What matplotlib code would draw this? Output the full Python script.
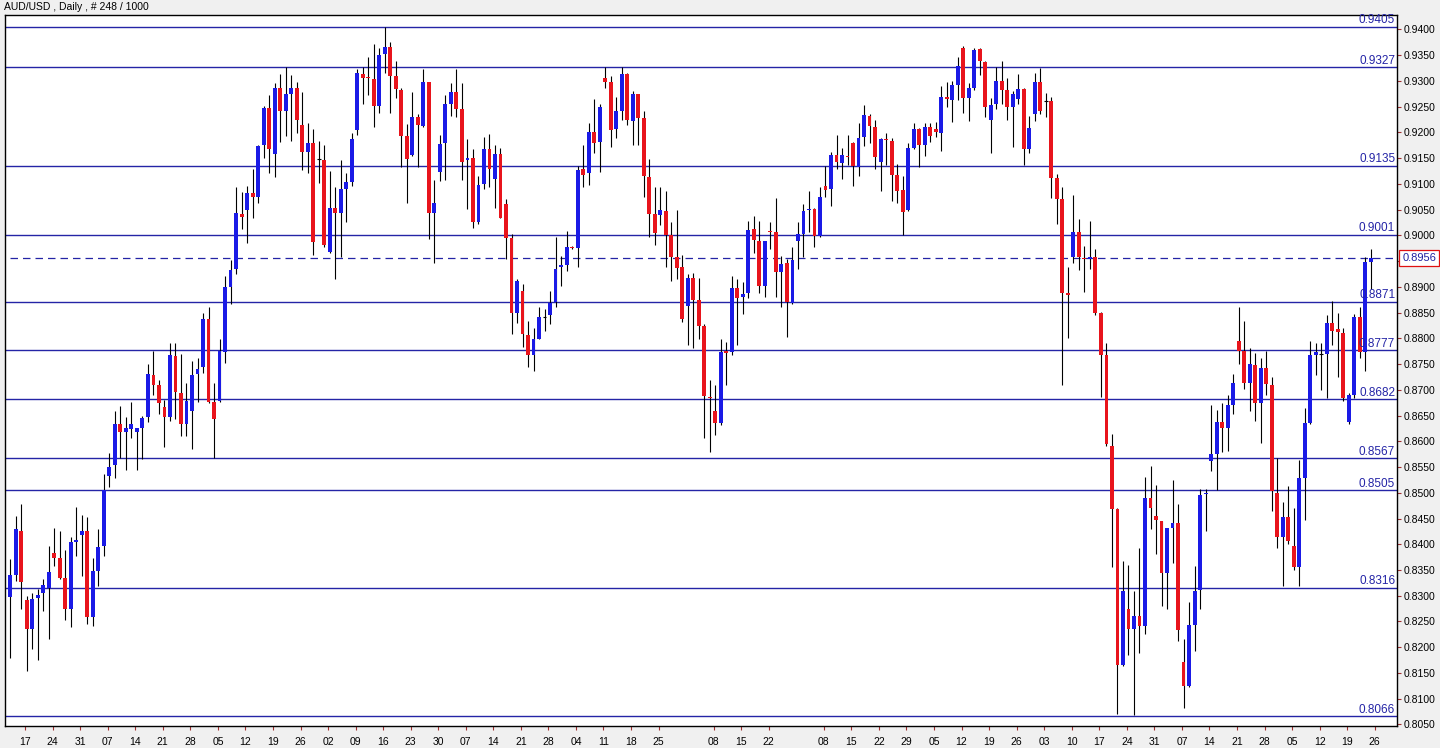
import numpy as np
import matplotlib
matplotlib.use("Agg")
import matplotlib.pyplot as plt

plt.rcParams['font.family'] = ['Liberation Sans', 'DejaVu Sans']

# daily AUD/USD candles (oldest first)
opens = [
    0.8298, 0.8341, 0.8426, 0.8292, 0.8235, 0.8295, 0.8305, 0.8316, 0.8383, 0.8374,
    0.8335, 0.8275, 0.8405, 0.8418, 0.8425, 0.8259, 0.8348, 0.8397, 0.8533, 0.8553,
    0.8634, 0.8619, 0.8624, 0.8619, 0.8626, 0.8647, 0.8729, 0.8709, 0.8667, 0.8647,
    0.8765, 0.8694, 0.8633, 0.8659, 0.8730, 0.8744, 0.8838, 0.8676, 0.8679, 0.8774,
    0.8900, 0.8934, 0.9041, 0.9049, 0.9082, 0.9074, 0.9175, 0.9248, 0.9158, 0.9287,
    0.9242, 0.9274, 0.9287, 0.9214, 0.9162, 0.9179, 0.9149, 0.9146, 0.8968, 0.9053,
    0.9043, 0.9091, 0.9103, 0.9205, 0.9313, 0.9307, 0.9304, 0.9252, 0.9352, 0.9366,
    0.9309, 0.9283, 0.9193, 0.9156, 0.9230, 0.9213, 0.9297, 0.9043, 0.9124, 0.9179,
    0.9256, 0.9278, 0.9246, 0.9146, 0.9151, 0.9025, 0.9100, 0.9167, 0.9110, 0.9158,
    0.9061, 0.8994, 0.8850, 0.8892, 0.8806, 0.8767, 0.8798, 0.8841, 0.8846, 0.8871,
    0.8938, 0.8943, 0.8978, 0.8976, 0.9128, 0.9121, 0.9200, 0.9181, 0.9306, 0.9297,
    0.9207, 0.9241, 0.9313, 0.9223, 0.9274, 0.9228, 0.9114, 0.9042, 0.9040, 0.9048,
    0.9000, 0.8957, 0.8938, 0.8862, 0.8917, 0.8874, 0.8823, 0.8687, 0.8658, 0.8635,
    0.8775, 0.8774, 0.8898, 0.8881, 0.8888, 0.9012, 0.8989, 0.8901, 0.9009, 0.9006,
    0.8929, 0.8946, 0.8869, 0.8989, 0.9003, 0.9049, 0.9051, 0.8998, 0.9096, 0.9091,
    0.9156, 0.9140, 0.9155, 0.9179, 0.9133, 0.9191, 0.9232, 0.9211, 0.9142, 0.9187,
    0.9184, 0.9117, 0.9088, 0.9049, 0.9170, 0.9207, 0.9175, 0.9211, 0.9207, 0.9198,
    0.9269, 0.9262, 0.9292, 0.9364, 0.9267, 0.9286, 0.9362, 0.9337, 0.9225, 0.9255,
    0.9300, 0.9283, 0.9249, 0.9265, 0.9284, 0.9168, 0.9235, 0.9298, 0.9260, 0.9260,
    0.9111, 0.9070, 0.8888, 0.8957, 0.9006, 0.8956, 0.8954, 0.8957, 0.8849, 0.8767,
    0.8591, 0.8468, 0.8165, 0.8274, 0.8235, 0.8261, 0.8241, 0.8489, 0.8454, 0.8446,
    0.8344, 0.8431, 0.8441, 0.8172, 0.8124, 0.8244, 0.8311, 0.8497, 0.8561, 0.8575,
    0.8637, 0.8626, 0.8670, 0.8795, 0.8776, 0.8713, 0.8749, 0.8675, 0.8742, 0.8709,
    0.8500, 0.8415, 0.8452, 0.8397, 0.8355, 0.8528, 0.8635, 0.8767, 0.8769, 0.8770,
    0.8830, 0.8818, 0.8810, 0.8637, 0.8690, 0.8841, 0.8774, 0.8948,
]
highs = [
    0.8372, 0.8454, 0.8478, 0.8300, 0.8306, 0.8313, 0.8332, 0.8397, 0.8431, 0.8426,
    0.8388, 0.8415, 0.8473, 0.8457, 0.8452, 0.8374, 0.8429, 0.8537, 0.8577, 0.8659,
    0.8669, 0.8647, 0.8676, 0.8626, 0.8649, 0.8750, 0.8776, 0.8719, 0.8681, 0.8790,
    0.8790, 0.8770, 0.8713, 0.8756, 0.8762, 0.8849, 0.8860, 0.8713, 0.8799, 0.8922,
    0.8952, 0.9093, 0.9085, 0.9096, 0.9129, 0.9176, 0.9251, 0.9272, 0.9295, 0.9313,
    0.9327, 0.9311, 0.9298, 0.9278, 0.9219, 0.9207, 0.9184, 0.9176, 0.9125, 0.9093,
    0.9146, 0.9122, 0.9199, 0.9323, 0.9327, 0.9346, 0.9371, 0.9364, 0.9405, 0.9375,
    0.9338, 0.9286, 0.9216, 0.9278, 0.9235, 0.9323, 0.9297, 0.9107, 0.9195, 0.9272,
    0.9295, 0.9323, 0.9295, 0.9188, 0.9167, 0.9116, 0.9191, 0.9196, 0.9176, 0.9170,
    0.9071, 0.9003, 0.8915, 0.8906, 0.8834, 0.8820, 0.8860, 0.8857, 0.8892, 0.8996,
    0.8959, 0.9008, 0.8980, 0.9135, 0.9176, 0.9218, 0.9264, 0.9255, 0.9327, 0.9309,
    0.9269, 0.9327, 0.9316, 0.9281, 0.9274, 0.9241, 0.9149, 0.9093, 0.9093, 0.9087,
    0.9025, 0.9049, 0.8962, 0.8925, 0.8926, 0.8917, 0.8827, 0.8719, 0.8709, 0.8798,
    0.8792, 0.8922, 0.8915, 0.8909, 0.9028, 0.9037, 0.9028, 0.8989, 0.9026, 0.9073,
    0.8959, 0.8954, 0.8978, 0.9026, 0.9061, 0.9087, 0.9054, 0.9094, 0.9135, 0.9162,
    0.9195, 0.9170, 0.9195, 0.9181, 0.9218, 0.9253, 0.9235, 0.9225, 0.9190, 0.9198,
    0.9190, 0.9139, 0.9116, 0.9179, 0.9218, 0.9209, 0.9218, 0.9218, 0.9221, 0.9290,
    0.9298, 0.9300, 0.9346, 0.9368, 0.9295, 0.9364, 0.9364, 0.9338, 0.9267, 0.9327,
    0.9338, 0.9306, 0.9281, 0.9313, 0.9287, 0.9232, 0.9315, 0.9325, 0.9276, 0.9269,
    0.9119, 0.9093, 0.8938, 0.9079, 0.9031, 0.8980, 0.9028, 0.8974, 0.8852, 0.8790,
    0.8614, 0.8470, 0.8367, 0.8360, 0.8309, 0.8392, 0.8531, 0.8552, 0.8515, 0.8446,
    0.8431, 0.8524, 0.8478, 0.8216, 0.8287, 0.8358, 0.8508, 0.8508, 0.8670, 0.8661,
    0.8674, 0.8690, 0.8730, 0.8860, 0.8834, 0.8781, 0.8772, 0.8762, 0.8776, 0.8724,
    0.8568, 0.8482, 0.8513, 0.8471, 0.8563, 0.8665, 0.8795, 0.8790, 0.8790, 0.8846,
    0.8872, 0.8850, 0.8820, 0.8693, 0.8848, 0.8860, 0.8957, 0.8973,
]
lows = [
    0.8179, 0.8329, 0.8274, 0.8153, 0.8196, 0.8175, 0.8270, 0.8216, 0.8357, 0.8332,
    0.8253, 0.8239, 0.8378, 0.8339, 0.8246, 0.8241, 0.8318, 0.8378, 0.8511, 0.8528,
    0.8568, 0.8545, 0.8607, 0.8545, 0.8565, 0.8637, 0.8690, 0.8653, 0.8589, 0.8640,
    0.8644, 0.8610, 0.8610, 0.8586, 0.8676, 0.8733, 0.8674, 0.8568, 0.8677, 0.8753,
    0.8866, 0.8924, 0.9012, 0.8985, 0.9033, 0.9063, 0.9151, 0.9122, 0.9114, 0.9182,
    0.9193, 0.9184, 0.9199, 0.9126, 0.9122, 0.8962, 0.9102, 0.8977, 0.8966, 0.8915,
    0.8957, 0.9025, 0.9096, 0.9195, 0.9255, 0.9272, 0.9211, 0.9237, 0.9316, 0.9237,
    0.9266, 0.9133, 0.9062, 0.9154, 0.9133, 0.9211, 0.8992, 0.8946, 0.9105, 0.9107,
    0.9232, 0.9230, 0.9108, 0.9052, 0.9015, 0.9022, 0.9091, 0.9094, 0.9054, 0.9034,
    0.8954, 0.8809, 0.8829, 0.8784, 0.8744, 0.8737, 0.8798, 0.8815, 0.8827, 0.8860,
    0.8901, 0.8931, 0.8974, 0.8938, 0.9093, 0.9098, 0.9159, 0.9124, 0.9286, 0.9172,
    0.9190, 0.9225, 0.9214, 0.9175, 0.9175, 0.9074, 0.8996, 0.8982, 0.9020, 0.8938,
    0.8911, 0.8915, 0.8832, 0.8788, 0.8781, 0.8798, 0.8607, 0.8579, 0.8612, 0.8631,
    0.8709, 0.8767, 0.8787, 0.8848, 0.8878, 0.8966, 0.8889, 0.8880, 0.8974, 0.8880,
    0.8860, 0.8802, 0.8867, 0.8934, 0.8957, 0.9006, 0.8977, 0.8996, 0.9075, 0.9057,
    0.9128, 0.9110, 0.9137, 0.9096, 0.9116, 0.9173, 0.9179, 0.9128, 0.9087, 0.9136,
    0.9066, 0.9063, 0.9001, 0.9048, 0.9167, 0.9133, 0.9154, 0.9181, 0.9191, 0.9163,
    0.9250, 0.9221, 0.9262, 0.9237, 0.9223, 0.9283, 0.9311, 0.9230, 0.9159, 0.9246,
    0.9255, 0.9225, 0.9172, 0.9256, 0.9137, 0.9159, 0.9223, 0.9235, 0.9230, 0.9073,
    0.9022, 0.8709, 0.8801, 0.8946, 0.8932, 0.8890, 0.8934, 0.8846, 0.8686, 0.8591,
    0.8355, 0.8071, 0.8163, 0.8184, 0.8068, 0.8188, 0.8225, 0.8429, 0.8381, 0.8281,
    0.8275, 0.8364, 0.8213, 0.8082, 0.8122, 0.8193, 0.8274, 0.8426, 0.8543, 0.8506,
    0.8580, 0.8582, 0.8653, 0.8751, 0.8702, 0.8659, 0.8640, 0.8596, 0.8690, 0.8464,
    0.8392, 0.8318, 0.8401, 0.8350, 0.8318, 0.8448, 0.8633, 0.8728, 0.8700, 0.8684,
    0.8788, 0.8725, 0.8679, 0.8633, 0.8684, 0.8761, 0.8737, 0.8895,
]
closes = [
    0.8341, 0.8429, 0.8327, 0.8235, 0.8294, 0.8302, 0.8320, 0.8346, 0.8374, 0.8335,
    0.8274, 0.8404, 0.8409, 0.8425, 0.8259, 0.8348, 0.8394, 0.8505, 0.8551, 0.8634,
    0.8619, 0.8626, 0.8634, 0.8625, 0.8646, 0.8731, 0.8709, 0.8674, 0.8647, 0.8767,
    0.8696, 0.8633, 0.8679, 0.8729, 0.8741, 0.8838, 0.8676, 0.8644, 0.8775, 0.8899,
    0.8932, 0.9043, 0.9036, 0.9082, 0.9074, 0.9173, 0.9248, 0.9167, 0.9287, 0.9242,
    0.9274, 0.9287, 0.9225, 0.9161, 0.9179, 0.8987, 0.9149, 0.8982, 0.9053, 0.9043,
    0.9091, 0.9103, 0.9188, 0.9316, 0.9306, 0.9305, 0.9252, 0.9350, 0.9366, 0.9309,
    0.9285, 0.9193, 0.9149, 0.9230, 0.9214, 0.9297, 0.9043, 0.9062, 0.9177, 0.9255,
    0.9278, 0.9246, 0.9142, 0.9151, 0.9025, 0.9098, 0.9167, 0.9128, 0.9158, 0.9034,
    0.8994, 0.8850, 0.8912, 0.8809, 0.8767, 0.8798, 0.8841, 0.8841, 0.8869, 0.8934,
    0.8943, 0.8977, 0.8976, 0.9127, 0.9117, 0.9200, 0.9179, 0.9249, 0.9298, 0.9205,
    0.9241, 0.9313, 0.9225, 0.9274, 0.9228, 0.9116, 0.9042, 0.9005, 0.9049, 0.9000,
    0.8957, 0.8937, 0.8838, 0.8917, 0.8874, 0.8823, 0.8688, 0.8684, 0.8635, 0.8774,
    0.8772, 0.8898, 0.8878, 0.8886, 0.9010, 0.8991, 0.8901, 0.8989, 0.9006, 0.8929,
    0.8945, 0.8871, 0.8952, 0.9003, 0.9047, 0.9052, 0.8998, 0.9075, 0.9088, 0.9156,
    0.9142, 0.9156, 0.9153, 0.9135, 0.9190, 0.9233, 0.9213, 0.9153, 0.9188, 0.9185,
    0.9117, 0.9087, 0.9045, 0.9170, 0.9207, 0.9175, 0.9211, 0.9193, 0.9200, 0.9269,
    0.9264, 0.9292, 0.9329, 0.9267, 0.9286, 0.9360, 0.9338, 0.9250, 0.9253, 0.9300,
    0.9283, 0.9249, 0.9274, 0.9284, 0.9168, 0.9209, 0.9298, 0.9241, 0.9260, 0.9112,
    0.9071, 0.8889, 0.8884, 0.9006, 0.8957, 0.8954, 0.8957, 0.8849, 0.8767, 0.8594,
    0.8468, 0.8165, 0.8309, 0.8235, 0.8261, 0.8241, 0.8489, 0.8471, 0.8448, 0.8344,
    0.8431, 0.8441, 0.8233, 0.8124, 0.8244, 0.8309, 0.8496, 0.8500, 0.8575, 0.8637,
    0.8626, 0.8670, 0.8713, 0.8776, 0.8713, 0.8750, 0.8675, 0.8742, 0.8711, 0.8503,
    0.8415, 0.8452, 0.8406, 0.8355, 0.8528, 0.8635, 0.8767, 0.8774, 0.8769, 0.8830,
    0.8815, 0.8812, 0.8684, 0.8690, 0.8841, 0.8774, 0.8948, 0.8956,
]

# support / resistance levels drawn on the chart
levels = [0.9405, 0.9327, 0.9135, 0.9001, 0.8871, 0.8777, 0.8682, 0.8567, 0.8505, 0.8316, 0.8066]
last_price = 0.8956

# Monday labels on the date axis (bar index of each label)
tick_bars = [3, 8, 13, 18, 23, 28, 33, 38, 43, 48, 53, 58, 63, 68, 73, 78, 83, 88, 93, 98,
             103, 108, 113, 118, 128, 133, 138, 148, 153, 158, 163, 168, 173, 178, 183, 188,
             193, 198, 203, 208, 213, 218, 223, 228, 233, 238, 243, 248]
tick_labels = ['17', '24', '31', '07', '14', '21', '28', '05', '12', '19', '26', '02', '09',
               '16', '23', '30', '07', '14', '21', '28', '04', '11', '18', '25', '08', '15',
               '22', '08', '15', '22', '29', '05', '12', '19', '26', '03', '10', '17', '24',
               '31', '07', '14', '21', '28', '05', '12', '19', '26']

BULL = '#1a1ae6'
BEAR = '#e8141c'
LEVEL = '#2424a6'

o = np.array(opens)
h = np.array(highs)
l = np.array(lows)
c = np.array(closes)
x = np.arange(len(o))

fig = plt.figure(figsize=(14.4, 7.48), dpi=100, facecolor='#f0f0f0')
ax = fig.add_axes([4.7 / 1440, 22.5 / 748, 1392.6 / 1440, 710.5 / 748])
ax.set_facecolor('white')

# levels behind the candles
for lv in levels:
    ax.axhline(lv, color=LEVEL, lw=1.0, zorder=1)
    ax.annotate(f'{lv:.4f}', xy=(1, lv), xycoords=('axes fraction', 'data'),
                xytext=(-1.5, 0.3), textcoords='offset points', ha='right', va='bottom',
                color=LEVEL, fontsize=8.5, zorder=5)

ax.hlines(last_price, x[0], 252, color=LEVEL, lw=0.9, linestyles=(0, (6, 4)), zorder=1)

# wicks
ax.vlines(x, l, h, color='black', lw=0.8, zorder=2)

# bodies
doji = o == c
colors = np.where(c > o, BULL, BEAR)
body_lo = np.minimum(o, c)
body_h = np.abs(c - o)
ax.bar(x[~doji], body_h[~doji], bottom=body_lo[~doji], width=0.7,
       color=colors[~doji], linewidth=0, zorder=3)
ax.hlines(c[doji], x[doji] - 0.35, x[doji] + 0.35, color='black', lw=0.8, zorder=3)

ax.set_xlim(-1.0, 251.8)
ax.set_ylim(0.8048, 0.9428)

yt = np.arange(0.805, 0.94001, 0.005)
ax.yaxis.tick_right()
ax.set_yticks(yt)
# the 0.8950 label sits under the current-price box, as on the original
ax.set_yticklabels(['' if abs(v - 0.895) < 1e-6 else f'{v:.4f}' for v in yt])
ax.set_xticks(np.array(tick_bars) - 0.3)
ax.set_xticklabels(tick_labels)
ax.tick_params(axis='y', direction='out', length=3, width=0.8, color='#a03030',
               labelsize=7.5, pad=1.5, labelcolor='black')
ax.tick_params(axis='x', direction='out', length=3, width=0.8, color='#a03030',
               labelsize=7.5, pad=5, labelcolor='black')
for s in ax.spines.values():
    s.set_color('black')
    s.set_linewidth(1.0)

# current price box on the price scale
ax.annotate(f'{last_price:.4f}', xy=(1, last_price), xycoords=('axes fraction', 'data'),
            xytext=(3.5, 0), textcoords='offset points', ha='left', va='center',
            fontsize=8, color='#2020a0', annotation_clip=False,
            bbox=dict(boxstyle='square,pad=0.25', fc='white', ec='#e01010', lw=0.9))

fig.text(4 / 1440, 1 - 7 / 748, 'AUD/USD , Daily , # 248 / 1000', ha='left', va='center',
         fontsize=7.5, color='black')

fig.savefig('out.png', dpi=100, facecolor=fig.get_facecolor())
